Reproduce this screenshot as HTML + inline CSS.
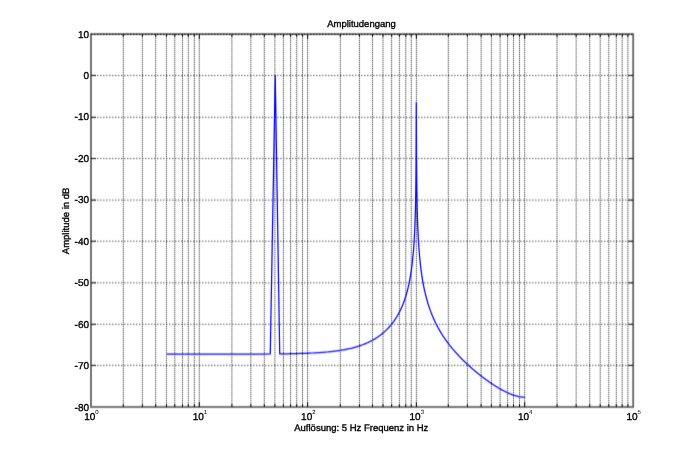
<!DOCTYPE html>
<html><head><meta charset="utf-8"><style>
html,body{margin:0;padding:0;background:#fff;width:700px;height:458px;overflow:hidden}
svg{display:block}
text{font-family:"Liberation Sans",sans-serif;fill:#000;stroke:#000;stroke-width:0.35px;text-rendering:geometricPrecision}
.gh{stroke:#333;stroke-width:0.8;stroke-dasharray:1.5 1.5;fill:none}
.gt{stroke:#000;stroke-width:1;stroke-dasharray:1.5 1.5;fill:none}
.gv{stroke:#222;stroke-width:1;stroke-dasharray:1 1;fill:none}
.tk{stroke:#000;stroke-width:1;fill:none}
.box{stroke:#666;stroke-width:1.8;fill:none}
.cv{stroke:#0000ff;stroke-width:1.25;fill:none;stroke-linejoin:round}
.yt{font-size:10px;text-anchor:end}
.xt{font-size:10px}
.sup{font-size:6px;stroke-width:0}
.lab{font-size:9.5px}
</style></head><body>
<svg width="700" height="458" viewBox="0 0 700 458">
<defs><filter id="bl" x="0" y="0" width="700" height="458" filterUnits="userSpaceOnUse" color-interpolation-filters="sRGB"><feConvolveMatrix order="3" kernelMatrix="0.01440 0.15120 0.01440 0.05120 0.53760 0.05120 0.01440 0.15120 0.01440" edgeMode="duplicate" preserveAlpha="true"/></filter><filter id="id" x="0" y="0" width="700" height="458" filterUnits="userSpaceOnUse" color-interpolation-filters="sRGB"><feOffset dx="0" dy="0"/></filter></defs>
<g filter="url(#bl)">
<rect width="700" height="458" fill="#fff"/>
<line x1="91.0" y1="75.45" x2="633.2" y2="75.45" class="gh"/>
<line x1="91.0" y1="117.35" x2="633.2" y2="117.35" class="gh"/>
<line x1="91.0" y1="158.50" x2="633.2" y2="158.50" class="gh"/>
<line x1="91.0" y1="200.10" x2="633.2" y2="200.10" class="gh"/>
<line x1="91.0" y1="241.25" x2="633.2" y2="241.25" class="gh"/>
<line x1="91.0" y1="282.80" x2="633.2" y2="282.80" class="gh"/>
<line x1="91.0" y1="324.30" x2="633.2" y2="324.30" class="gh"/>
<line x1="91.0" y1="365.40" x2="633.2" y2="365.40" class="gh"/>
<line x1="123.29" y1="34.1" x2="123.29" y2="407.0" class="gv"/>
<line x1="142.39" y1="34.1" x2="142.39" y2="407.0" class="gv"/>
<line x1="155.70" y1="34.1" x2="155.70" y2="407.0" class="gv"/>
<line x1="166.45" y1="34.1" x2="166.45" y2="407.0" class="gv"/>
<line x1="174.75" y1="34.1" x2="174.75" y2="407.0" class="gv"/>
<line x1="182.50" y1="34.1" x2="182.50" y2="407.0" class="gv"/>
<line x1="188.30" y1="34.1" x2="188.30" y2="407.0" class="gv"/>
<line x1="194.35" y1="34.1" x2="194.35" y2="407.0" class="gv"/>
<line x1="199.30" y1="34.1" x2="199.30" y2="407.0" class="gv"/>
<line x1="231.90" y1="34.1" x2="231.90" y2="407.0" class="gv"/>
<line x1="250.83" y1="34.1" x2="250.83" y2="407.0" class="gv"/>
<line x1="264.30" y1="34.1" x2="264.30" y2="407.0" class="gv"/>
<line x1="274.90" y1="34.1" x2="274.90" y2="407.0" class="gv"/>
<line x1="283.40" y1="34.1" x2="283.40" y2="407.0" class="gv"/>
<line x1="290.60" y1="34.1" x2="290.60" y2="407.0" class="gv"/>
<line x1="296.70" y1="34.1" x2="296.70" y2="407.0" class="gv"/>
<line x1="302.55" y1="34.1" x2="302.55" y2="407.0" class="gv"/>
<line x1="307.60" y1="34.1" x2="307.60" y2="407.0" class="gv"/>
<line x1="340.30" y1="34.1" x2="340.30" y2="407.0" class="gv"/>
<line x1="359.45" y1="34.1" x2="359.45" y2="407.0" class="gv"/>
<line x1="372.50" y1="34.1" x2="372.50" y2="407.0" class="gv"/>
<line x1="383.00" y1="34.1" x2="383.00" y2="407.0" class="gv"/>
<line x1="391.65" y1="34.1" x2="391.65" y2="407.0" class="gv"/>
<line x1="399.40" y1="34.1" x2="399.40" y2="407.0" class="gv"/>
<line x1="405.75" y1="34.1" x2="405.75" y2="407.0" class="gv"/>
<line x1="411.25" y1="34.1" x2="411.25" y2="407.0" class="gv"/>
<line x1="416.40" y1="34.1" x2="416.40" y2="407.0" class="gv"/>
<line x1="448.30" y1="34.1" x2="448.30" y2="407.0" class="gv"/>
<line x1="467.40" y1="34.1" x2="467.40" y2="407.0" class="gv"/>
<line x1="481.10" y1="34.1" x2="481.10" y2="407.0" class="gv"/>
<line x1="491.40" y1="34.1" x2="491.40" y2="407.0" class="gv"/>
<line x1="500.10" y1="34.1" x2="500.10" y2="407.0" class="gv"/>
<line x1="507.60" y1="34.1" x2="507.60" y2="407.0" class="gv"/>
<line x1="513.50" y1="34.1" x2="513.50" y2="407.0" class="gv"/>
<line x1="519.50" y1="34.1" x2="519.50" y2="407.0" class="gv"/>
<line x1="524.70" y1="34.1" x2="524.70" y2="407.0" class="gv"/>
<line x1="557.05" y1="34.1" x2="557.05" y2="407.0" class="gv"/>
<line x1="576.15" y1="34.1" x2="576.15" y2="407.0" class="gv"/>
<line x1="589.70" y1="34.1" x2="589.70" y2="407.0" class="gv"/>
<line x1="600.21" y1="34.1" x2="600.21" y2="407.0" class="gv"/>
<line x1="608.79" y1="34.1" x2="608.79" y2="407.0" class="gv"/>
<line x1="616.30" y1="34.1" x2="616.30" y2="407.0" class="gv"/>
<line x1="622.20" y1="34.1" x2="622.20" y2="407.0" class="gv"/>
<line x1="627.90" y1="34.1" x2="627.90" y2="407.0" class="gv"/>
<rect x="91.0" y="34.1" width="542.20" height="372.90" class="box"/>
<path d="M123.29,407.0v-3M123.29,34.1v3M142.39,407.0v-3M142.39,34.1v3M155.70,407.0v-3M155.70,34.1v3M166.45,407.0v-3M166.45,34.1v3M174.75,407.0v-3M174.75,34.1v3M182.50,407.0v-3M182.50,34.1v3M188.30,407.0v-3M188.30,34.1v3M194.35,407.0v-3M194.35,34.1v3M199.30,407.0v-5M199.30,34.1v5M231.90,407.0v-3M231.90,34.1v3M250.83,407.0v-3M250.83,34.1v3M264.30,407.0v-3M264.30,34.1v3M274.90,407.0v-3M274.90,34.1v3M283.40,407.0v-3M283.40,34.1v3M290.60,407.0v-3M290.60,34.1v3M296.70,407.0v-3M296.70,34.1v3M302.55,407.0v-3M302.55,34.1v3M307.60,407.0v-5M307.60,34.1v5M340.30,407.0v-3M340.30,34.1v3M359.45,407.0v-3M359.45,34.1v3M372.50,407.0v-3M372.50,34.1v3M383.00,407.0v-3M383.00,34.1v3M391.65,407.0v-3M391.65,34.1v3M399.40,407.0v-3M399.40,34.1v3M405.75,407.0v-3M405.75,34.1v3M411.25,407.0v-3M411.25,34.1v3M416.40,407.0v-5M416.40,34.1v5M448.30,407.0v-3M448.30,34.1v3M467.40,407.0v-3M467.40,34.1v3M481.10,407.0v-3M481.10,34.1v3M491.40,407.0v-3M491.40,34.1v3M500.10,407.0v-3M500.10,34.1v3M507.60,407.0v-3M507.60,34.1v3M513.50,407.0v-3M513.50,34.1v3M519.50,407.0v-3M519.50,34.1v3M524.70,407.0v-5M524.70,34.1v5M557.05,407.0v-3M557.05,34.1v3M576.15,407.0v-3M576.15,34.1v3M589.70,407.0v-3M589.70,34.1v3M600.21,407.0v-3M600.21,34.1v3M608.79,407.0v-3M608.79,34.1v3M616.30,407.0v-3M616.30,34.1v3M622.20,407.0v-3M622.20,34.1v3M627.90,407.0v-3M627.90,34.1v3M91.0,75.45h5M633.2,75.45h-5M91.0,117.35h5M633.2,117.35h-5M91.0,158.50h5M633.2,158.50h-5M91.0,200.10h5M633.2,200.10h-5M91.0,241.25h5M633.2,241.25h-5M91.0,282.80h5M633.2,282.80h-5M91.0,324.30h5M633.2,324.30h-5M91.0,365.40h5M633.2,365.40h-5" class="tk"/>
<line x1="91.0" y1="34.40" x2="633.2" y2="34.40" class="gt"/>
<polyline points="166.80,354.19 199.44,354.18 218.54,354.17 232.08,354.15 242.59,354.13 251.18,354.10 258.44,354.07 264.73,354.03 270.27,353.99 275.24,75.53 279.72,353.89 283.82,353.84 287.59,353.77 291.08,353.71 294.33,353.64 297.37,353.56 300.23,353.48 302.92,353.39 305.46,353.30 307.88,353.21 310.18,353.11 312.37,353.00 314.46,352.89 316.47,352.78 318.39,352.66 320.24,352.54 322.01,352.41 323.73,352.28 325.38,352.14 326.98,352.00 328.52,351.85 330.01,351.70 331.46,351.55 332.87,351.39 334.24,351.23 335.56,351.06 336.85,350.89 338.11,350.71 339.33,350.53 340.52,350.35 341.69,350.16 342.82,349.97 343.93,349.77 345.01,349.57 346.07,349.37 347.11,349.16 348.12,348.94 349.11,348.73 350.08,348.51 351.03,348.28 351.97,348.06 352.88,347.82 353.78,347.59 354.66,347.35 355.52,347.10 356.37,346.86 357.20,346.61 358.02,346.35 358.83,346.10 359.62,345.83 360.40,345.57 361.16,345.30 361.92,345.03 362.66,344.75 363.39,344.47 364.11,344.19 364.82,343.90 365.51,343.61 366.20,343.32 366.88,343.02 367.55,342.72 368.21,342.42 368.86,342.11 369.50,341.80 370.13,341.48 370.75,341.16 371.37,340.84 371.98,340.52 372.57,340.19 373.17,339.86 373.75,339.52 374.33,339.18 374.90,338.84 375.47,338.49 376.02,338.14 376.57,337.79 377.12,337.43 377.66,337.07 378.19,336.70 378.71,336.34 379.23,335.96 379.75,335.59 380.26,335.21 380.76,334.83 381.26,334.44 381.75,334.05 382.24,333.65 382.72,333.25 383.20,332.85 383.68,332.44 384.14,332.03 384.61,331.62 385.07,331.20 385.52,330.77 385.97,330.35 386.42,329.91 386.86,329.48 387.30,329.03 387.73,328.59 388.16,328.14 388.59,327.68 389.01,327.22 389.43,326.75 389.85,326.28 390.26,325.81 390.67,325.33 391.07,324.84 391.47,324.35 391.87,323.85 392.26,323.35 392.65,322.84 393.04,322.33 393.43,321.80 393.81,321.28 394.19,320.74 394.56,320.20 394.93,319.66 395.30,319.10 395.67,318.54 396.03,317.97 396.39,317.40 396.75,316.82 397.11,316.23 397.46,315.63 397.81,315.02 398.16,314.40 398.50,313.78 398.84,313.15 399.18,312.50 399.52,311.85 399.86,311.19 400.19,310.51 400.52,309.83 400.85,309.13 401.18,308.43 401.50,307.71 401.82,306.98 402.14,306.24 402.46,305.48 402.77,304.71 403.08,303.92 403.40,303.12 403.70,302.31 404.01,301.48 404.32,300.63 404.62,299.76 404.92,298.88 405.22,297.97 405.52,297.05 405.81,296.10 406.10,295.14 406.40,294.14 406.69,293.13 406.97,292.09 407.26,291.01 407.54,289.92 407.83,288.78 408.11,287.62 408.39,286.42 408.67,285.19 408.94,283.91 409.22,282.59 409.49,281.23 409.76,279.81 410.03,278.35 410.30,276.82 410.57,275.23 410.83,273.58 411.10,271.85 411.36,270.04 411.62,268.14 411.88,266.14 412.14,264.03 412.39,261.79 412.65,259.42 412.90,256.88 413.15,254.16 413.41,251.22 413.66,248.04 413.90,244.56 414.15,240.71 414.40,236.42 414.64,231.56 414.89,225.96 415.13,219.35 415.37,211.26 415.61,200.86 415.85,186.21 416.08,161.22 416.32,102.63 416.55,161.11 416.79,186.01 417.02,200.55 417.25,210.85 417.48,218.83 417.71,225.34 417.94,230.84 418.17,235.59 418.39,239.78 418.62,243.52 418.84,246.90 419.06,249.98 419.29,252.81 419.51,255.43 419.73,257.87 419.94,260.14 420.16,262.27 420.38,264.28 420.59,266.18 420.81,267.97 421.02,269.68 421.23,271.31 421.45,272.86 421.66,274.34 421.87,275.76 422.08,277.13 422.28,278.44 422.49,279.70 422.70,280.92 422.90,282.09 423.11,283.22 423.31,284.32 423.51,285.38 423.71,286.41 423.91,287.41 424.11,288.37 424.31,289.31 424.51,290.23 424.71,291.12 424.91,291.98 425.10,292.83 425.30,293.65 425.49,294.45 425.68,295.23 425.88,296.00 426.07,296.74 426.26,297.47 426.45,298.19 426.64,298.88 426.83,299.57 427.02,300.24 427.20,300.89 427.39,301.53 427.58,302.16 427.76,302.78 427.95,303.39 428.13,303.98 428.31,304.56 428.49,305.14 428.68,305.70 428.86,306.25 429.04,306.80 429.22,307.33 429.40,307.85 429.57,308.37 429.75,308.88 429.93,309.38 430.10,309.87 430.28,310.35 430.45,310.83 430.63,311.30 430.80,311.76 430.97,312.22 431.15,312.67 431.32,313.11 431.49,313.55 431.66,313.98 431.83,314.40 432.00,314.82 432.17,315.24 432.33,315.64 432.50,316.05 432.67,316.44 432.83,316.84 433.00,317.22 433.16,317.60 433.33,317.98 433.49,318.36 433.66,318.72 433.82,319.09 433.98,319.45 434.14,319.80 434.30,320.15 434.46,320.50 434.62,320.84 434.78,321.18 434.94,321.52 435.10,321.85 435.26,322.18 435.42,322.50 435.57,322.83 435.73,323.14 435.88,323.46 436.04,323.77 436.19,324.08 436.35,324.38 436.50,324.68 436.65,324.98 436.81,325.28 436.96,325.57 437.11,325.86 437.26,326.15 437.41,326.43 437.56,326.72 437.71,327.00 437.86,327.27 438.01,327.55 438.16,327.82 438.31,328.09 438.45,328.35 438.60,328.62 438.75,328.88 438.89,329.14 439.04,329.40 439.18,329.65 439.33,329.90 439.47,330.16 439.62,330.40 439.76,330.65 439.90,330.90 440.05,331.14 440.19,331.38 440.33,331.62 440.47,331.85 440.61,332.09 440.75,332.32 440.89,332.55 441.03,332.78 441.17,333.01 441.31,333.23 441.45,333.46 441.59,333.68 441.72,333.90 441.86,334.12 442.00,334.34 442.13,334.55 442.27,334.77 442.41,334.98 442.54,335.19 442.68,335.40 442.81,335.61 442.94,335.81 443.08,336.02 443.21,336.22 443.34,336.42 443.48,336.62 443.61,336.82 443.74,337.02 443.87,337.22 444.00,337.41 444.13,337.61 444.26,337.80 444.39,337.99 444.52,338.18 444.65,338.37 444.78,338.56 444.91,338.74 445.04,338.93 445.16,339.11 445.29,339.29 445.42,339.48 445.55,339.66 445.67,339.84 445.80,340.01 445.92,340.19 446.05,340.37 446.17,340.54 446.30,340.72 446.42,340.89 446.55,341.06 446.67,341.23 446.80,341.40 446.92,341.57 447.04,341.74 447.16,341.90 447.29,342.07 447.41,342.24 447.53,342.40 447.65,342.56 447.77,342.72 447.89,342.89 448.01,343.05 448.13,343.20 448.25,343.36 448.37,343.52 448.49,343.68 448.61,343.83 448.73,343.99 448.85,344.14 448.96,344.30 449.08,344.45 449.20,344.60 449.32,344.75 449.43,344.90 449.55,345.05 449.66,345.20 449.78,345.35 449.90,345.49 450.01,345.64 450.13,345.78 450.24,345.93 450.36,346.07 450.47,346.22 450.58,346.36 450.70,346.50 450.81,346.64 450.92,346.78 451.04,346.92 451.15,347.06 451.26,347.20 451.37,347.34 451.49,347.47 451.60,347.61 451.71,347.74 451.82,347.88 451.93,348.01 452.04,348.15 452.15,348.28 452.26,348.41 452.37,348.54 452.48,348.68 452.59,348.81 452.70,348.94 452.81,349.06 452.91,349.19 453.02,349.32 453.13,349.45 453.24,349.58 453.35,349.70 453.45,349.83 453.56,349.95 453.67,350.08 453.77,350.20 453.88,350.33 453.98,350.45 454.09,350.57 454.20,350.69 454.30,350.82 454.41,350.94 454.51,351.06 454.62,351.18 454.72,351.30 454.82,351.41 454.93,351.53 455.03,351.65 455.13,351.77 455.24,351.88 455.34,352.00 455.44,352.12 455.55,352.23 455.65,352.35 455.75,352.46 455.85,352.58 455.95,352.69 456.05,352.80 456.16,352.92 456.26,353.03 456.36,353.14 456.46,353.25 456.56,353.36 456.66,353.47 456.76,353.58 456.86,353.69 456.96,353.80 457.06,353.91 457.16,354.02 457.25,354.12 457.35,354.23 457.45,354.34 457.55,354.44 457.65,354.55 457.75,354.66 457.84,354.76 457.94,354.87 458.04,354.97 458.14,355.08 458.23,355.18 458.33,355.28 458.42,355.39 458.52,355.49 458.62,355.59 458.71,355.69 458.81,355.79 458.90,355.89 459.00,356.00 459.09,356.10 459.19,356.20 459.28,356.29 459.38,356.39 459.47,356.49 459.57,356.59 459.66,356.69 459.75,356.79 459.85,356.88 459.94,356.98 460.03,357.08 460.13,357.18 460.22,357.27 460.31,357.37 460.41,357.46 460.50,357.56 460.59,357.65 460.68,357.75 460.77,357.84 460.86,357.93 460.96,358.03 461.05,358.12 461.14,358.21 461.23,358.31 461.32,358.40 461.41,358.49 461.50,358.58 461.59,358.67 461.68,358.76 461.77,358.85 461.86,358.94 461.95,359.03 462.04,359.12 462.13,359.21 462.22,359.30 462.31,359.39 462.39,359.48 462.48,359.57 462.57,359.66 462.66,359.74 462.75,359.83 462.83,359.92 462.92,360.01 463.01,360.09 463.10,360.18 463.18,360.27 463.27,360.35 463.36,360.44 463.44,360.52 463.53,360.61 463.62,360.69 463.70,360.78 463.79,360.86 463.88,360.94 463.96,361.03 464.05,361.11 464.13,361.19 464.22,361.28 464.30,361.36 464.39,361.44 464.47,361.52 464.56,361.61 464.64,361.69 464.73,361.77 464.81,361.85 464.89,361.93 464.98,362.01 465.06,362.09 465.15,362.17 465.23,362.25 465.31,362.33 465.39,362.41 465.48,362.49 465.56,362.57 465.64,362.65 465.73,362.73 465.81,362.80 465.89,362.88 465.97,362.96 466.05,363.04 466.14,363.11 466.22,363.19 466.30,363.27 466.38,363.35 466.46,363.42 466.54,363.50 466.62,363.57 466.71,363.65 466.79,363.73 466.87,363.80 466.95,363.88 467.03,363.95 467.11,364.03 467.19,364.10 467.27,364.17 467.35,364.25 467.43,364.32 467.51,364.40 467.59,364.47 467.66,364.54 467.74,364.62 467.82,364.69 467.90,364.76 467.98,364.83 468.06,364.91 468.14,364.98 468.22,365.05 468.29,365.12 468.37,365.19 468.45,365.26 468.53,365.34 468.61,365.41 468.68,365.48 468.76,365.55 468.84,365.62 468.91,365.69 468.99,365.76 469.07,365.83 469.15,365.90 469.22,365.97 469.30,366.04 469.37,366.10 469.45,366.17 469.53,366.24 469.60,366.31 469.68,366.38 469.75,366.45 469.83,366.52 469.91,366.58 469.98,366.65 470.06,366.72 470.13,366.79 470.21,366.85 470.28,366.92 470.36,366.99 470.43,367.05 470.51,367.12 470.58,367.19 470.65,367.25 470.73,367.32 470.80,367.38 470.88,367.45 470.95,367.51 471.02,367.58 471.10,367.64 471.17,367.71 471.25,367.77 471.32,367.84 471.39,367.90 471.46,367.97 471.54,368.03 471.61,368.09 471.68,368.16 471.76,368.22 471.83,368.29 471.90,368.35 471.97,368.41 472.05,368.47 472.12,368.54 472.19,368.60 472.26,368.66 472.33,368.72 472.40,368.79 472.48,368.85 472.55,368.91 472.62,368.97 472.69,369.03 472.76,369.10 472.83,369.16 472.90,369.22 472.97,369.28 473.04,369.34 473.12,369.40 473.19,369.46 473.26,369.52 473.33,369.58 473.40,369.64 473.47,369.70 473.54,369.76 473.61,369.82 473.68,369.88 473.75,369.94 473.81,370.00 473.88,370.06 473.95,370.12 474.02,370.18 474.09,370.24 474.16,370.29 474.23,370.35 474.30,370.41 474.37,370.47 474.44,370.53 474.50,370.58 474.57,370.64 474.64,370.70 474.71,370.76 474.78,370.82 474.85,370.87 474.91,370.93 474.98,370.99 475.05,371.04 475.12,371.10 475.18,371.16 475.25,371.21 475.32,371.27 475.39,371.33 475.45,371.38 475.52,371.44 475.59,371.49 475.65,371.55 475.72,371.60 475.79,371.66 475.85,371.72 475.92,371.77 475.99,371.83 476.05,371.88 476.12,371.94 476.19,371.99 476.25,372.04 476.32,372.10 476.38,372.15 476.45,372.21 476.51,372.26 476.58,372.32 476.65,372.37 476.71,372.42 476.78,372.48 476.84,372.53 476.91,372.58 476.97,372.64 477.04,372.69 477.10,372.74 477.17,372.80 477.23,372.85 477.30,372.90 477.36,372.95 477.42,373.01 477.49,373.06 477.55,373.11 477.62,373.16 477.68,373.22 477.74,373.27 477.81,373.32 477.87,373.37 477.94,373.42 478.00,373.47 478.06,373.53 478.13,373.58 478.19,373.63 478.25,373.68 478.32,373.73 478.38,373.78 478.44,373.83 478.51,373.88 478.57,373.93 478.63,373.98 478.69,374.03 478.76,374.08 478.82,374.13 478.88,374.18 478.94,374.23 479.01,374.28 479.07,374.33 479.13,374.38 479.19,374.43 479.25,374.48 479.32,374.53 479.38,374.58 479.44,374.63 479.50,374.68 479.56,374.73 479.62,374.77 479.68,374.82 479.75,374.87 479.81,374.92 479.87,374.97 479.93,375.02 479.99,375.06 480.05,375.11 480.11,375.16 480.17,375.21 480.23,375.26 480.29,375.30 480.35,375.35 480.42,375.40 480.48,375.45 480.54,375.49 480.60,375.54 480.66,375.59 480.72,375.63 480.78,375.68 480.84,375.73 480.90,375.77 480.96,375.82 481.01,375.87 481.07,375.91 481.13,375.96 481.19,376.01 481.25,376.05 481.31,376.10 481.37,376.14 481.43,376.19 481.49,376.24 481.55,376.28 481.61,376.33 481.67,376.37 481.72,376.42 481.78,376.46 481.84,376.51 481.90,376.55 481.96,376.60 482.02,376.64 482.08,376.69 482.13,376.73 482.19,376.78 482.25,376.82 482.31,376.87 482.37,376.91 482.42,376.95 482.48,377.00 482.54,377.04 482.60,377.09 482.66,377.13 482.71,377.17 482.77,377.22 482.83,377.26 482.89,377.31 482.94,377.35 483.00,377.39 483.06,377.44 483.11,377.48 483.17,377.52 483.23,377.57 483.28,377.61 483.34,377.65 483.40,377.69 483.45,377.74 483.51,377.78 483.57,377.82 483.62,377.86 483.68,377.91 483.74,377.95 483.79,377.99 483.85,378.03 483.91,378.08 483.96,378.12 484.02,378.16 484.07,378.20 484.13,378.24 484.18,378.29 484.24,378.33 484.30,378.37 484.35,378.41 484.41,378.45 484.46,378.49 484.52,378.53 484.57,378.58 484.63,378.62 484.68,378.66 484.74,378.70 484.79,378.74 484.85,378.78 484.90,378.82 484.96,378.86 485.01,378.90 485.07,378.94 485.12,378.98 485.18,379.02 485.23,379.06 485.29,379.10 485.34,379.14 485.40,379.18 485.45,379.22 485.50,379.26 485.56,379.30 485.61,379.34 485.67,379.38 485.72,379.42 485.77,379.46 485.83,379.50 485.88,379.54 485.94,379.58 485.99,379.62 486.04,379.66 486.10,379.70 486.15,379.74 486.20,379.77 486.26,379.81 486.31,379.85 486.36,379.89 486.42,379.93 486.47,379.97 486.52,380.01 486.58,380.04 486.63,380.08 486.68,380.12 486.73,380.16 486.79,380.20 486.84,380.24 486.89,380.27 486.94,380.31 487.00,380.35 487.05,380.39 487.10,380.42 487.15,380.46 487.21,380.50 487.26,380.54 487.31,380.57 487.36,380.61 487.42,380.65 487.47,380.69 487.52,380.72 487.57,380.76 487.62,380.80 487.67,380.83 487.73,380.87 487.78,380.91 487.83,380.94 487.88,380.98 487.93,381.02 487.98,381.05 488.04,381.09 488.09,381.13 488.14,381.16 488.19,381.20 488.24,381.24 488.29,381.27 488.34,381.31 488.39,381.34 488.44,381.38 488.50,381.42 488.55,381.45 488.60,381.49 488.65,381.52 488.70,381.56 488.75,381.59 488.80,381.63 488.85,381.67 488.90,381.70 488.95,381.74 489.00,381.77 489.05,381.81 489.10,381.84 489.15,381.88 489.20,381.91 489.25,381.95 489.30,381.98 489.35,382.02 489.40,382.05 489.45,382.09 489.50,382.12 489.55,382.15 489.60,382.19 489.65,382.22 489.70,382.26 489.75,382.29 489.80,382.33 489.85,382.36 489.90,382.39 489.95,382.43 490.00,382.46 490.05,382.50 490.10,382.53 490.14,382.56 490.19,382.60 490.24,382.63 490.29,382.67 490.34,382.70 490.39,382.73 490.44,382.77 490.49,382.80 490.54,382.83 490.58,382.87 490.63,382.90 490.68,382.93 490.73,382.97 490.78,383.00 490.83,383.03 490.88,383.06 490.92,383.10 490.97,383.13 491.02,383.16 491.07,383.20 491.12,383.23 491.16,383.26 491.21,383.29 491.26,383.33 491.31,383.36 491.36,383.39 491.40,383.42 491.45,383.45 491.50,383.49 491.55,383.52 491.60,383.55 491.64,383.58 491.69,383.61 491.74,383.65 491.79,383.68 491.83,383.71 491.88,383.74 491.93,383.77 491.97,383.81 492.02,383.84 492.07,383.87 492.12,383.90 492.16,383.93 492.21,383.96 492.26,383.99 492.30,384.02 492.35,384.06 492.40,384.09 492.44,384.12 492.49,384.15 492.54,384.18 492.58,384.21 492.63,384.24 492.68,384.27 492.72,384.30 492.77,384.33 492.82,384.36 492.86,384.40 492.91,384.43 492.96,384.46 493.00,384.49 493.05,384.52 493.10,384.55 493.14,384.58 493.19,384.61 493.23,384.64 493.28,384.67 493.33,384.70 493.37,384.73 493.42,384.76 493.46,384.79 493.51,384.82 493.55,384.85 493.60,384.88 493.65,384.91 493.69,384.94 493.74,384.97 493.78,385.00 493.83,385.03 493.87,385.05 493.92,385.08 493.96,385.11 494.01,385.14 494.05,385.17 494.10,385.20 494.14,385.23 494.19,385.26 494.23,385.29 494.28,385.32 494.32,385.35 494.37,385.37 494.41,385.40 494.46,385.43 494.50,385.46 494.55,385.49 494.59,385.52 494.64,385.55 494.68,385.58 494.73,385.60 494.77,385.63 494.82,385.66 494.86,385.69 494.90,385.72 494.95,385.75 494.99,385.77 495.04,385.80 495.08,385.83 495.13,385.86 495.17,385.89 495.21,385.91 495.26,385.94 495.30,385.97 495.35,386.00 495.39,386.02 495.43,386.05 495.48,386.08 495.52,386.11 495.57,386.14 495.61,386.16 495.65,386.19 495.70,386.22 495.74,386.25 495.78,386.27 495.83,386.30 495.87,386.33 495.91,386.35 495.96,386.38 496.00,386.41 496.05,386.44 496.09,386.46 496.13,386.49 496.17,386.52 496.22,386.54 496.26,386.57 496.30,386.60 496.35,386.62 496.39,386.65 496.43,386.68 496.48,386.70 496.52,386.73 496.56,386.76 496.60,386.78 496.65,386.81 496.69,386.83 496.73,386.86 496.78,386.89 496.82,386.91 496.86,386.94 496.90,386.97 496.95,386.99 496.99,387.02 497.03,387.04 497.07,387.07 497.12,387.10 497.16,387.12 497.20,387.15 497.24,387.17 497.29,387.20 497.33,387.22 497.37,387.25 497.41,387.28 497.45,387.30 497.50,387.33 497.54,387.35 497.58,387.38 497.62,387.40 497.66,387.43 497.71,387.45 497.75,387.48 497.79,387.50 497.83,387.53 497.87,387.55 497.91,387.58 497.96,387.60 498.00,387.63 498.04,387.65 498.08,387.68 498.12,387.70 498.16,387.73 498.20,387.75 498.25,387.78 498.29,387.80 498.33,387.83 498.37,387.85 498.41,387.88 498.45,387.90 498.49,387.92 498.53,387.95 498.58,387.97 498.62,388.00 498.66,388.02 498.70,388.05 498.74,388.07 498.78,388.09 498.82,388.12 498.86,388.14 498.90,388.17 498.94,388.19 498.98,388.21 499.02,388.24 499.07,388.26 499.11,388.29 499.15,388.31 499.19,388.33 499.23,388.36 499.27,388.38 499.31,388.40 499.35,388.43 499.39,388.45 499.43,388.47 499.47,388.50 499.51,388.52 499.55,388.54 499.59,388.57 499.63,388.59 499.67,388.61 499.71,388.64 499.75,388.66 499.79,388.68 499.83,388.71 499.87,388.73 499.91,388.75 499.95,388.78 499.99,388.80 500.03,388.82 500.07,388.84 500.11,388.87 500.15,388.89 500.19,388.91 500.23,388.94 500.27,388.96 500.31,388.98 500.35,389.00 500.39,389.03 500.43,389.05 500.47,389.07 500.51,389.09 500.55,389.12 500.58,389.14 500.62,389.16 500.66,389.18 500.70,389.20 500.74,389.23 500.78,389.25 500.82,389.27 500.86,389.29 500.90,389.31 500.94,389.34 500.98,389.36 501.02,389.38 501.05,389.40 501.09,389.42 501.13,389.45 501.17,389.47 501.21,389.49 501.25,389.51 501.29,389.53 501.33,389.55 501.37,389.58 501.40,389.60 501.44,389.62 501.48,389.64 501.52,389.66 501.56,389.68 501.60,389.70 501.64,389.72 501.67,389.75 501.71,389.77 501.75,389.79 501.79,389.81 501.83,389.83 501.87,389.85 501.90,389.87 501.94,389.89 501.98,389.91 502.02,389.94 502.06,389.96 502.09,389.98 502.13,390.00 502.17,390.02 502.21,390.04 502.25,390.06 502.28,390.08 502.32,390.10 502.36,390.12 502.40,390.14 502.44,390.16 502.47,390.18 502.51,390.20 502.55,390.22 502.59,390.24 502.63,390.26 502.66,390.28 502.70,390.30 502.74,390.32 502.78,390.34 502.81,390.36 502.85,390.38 502.89,390.40 502.93,390.42 502.96,390.44 503.00,390.46 503.04,390.48 503.08,390.50 503.11,390.52 503.15,390.54 503.19,390.56 503.22,390.58 503.26,390.60 503.30,390.62 503.34,390.64 503.37,390.66 503.41,390.68 503.45,390.70 503.48,390.72 503.52,390.74 503.56,390.76 503.59,390.78 503.63,390.80 503.67,390.82 503.71,390.84 503.74,390.86 503.78,390.87 503.82,390.89 503.85,390.91 503.89,390.93 503.93,390.95 503.96,390.97 504.00,390.99 504.04,391.01 504.07,391.03 504.11,391.05 504.15,391.06 504.18,391.08 504.22,391.10 504.25,391.12 504.29,391.14 504.33,391.16 504.36,391.18 504.40,391.19 504.44,391.21 504.47,391.23 504.51,391.25 504.54,391.27 504.58,391.29 504.62,391.31 504.65,391.32 504.69,391.34 504.73,391.36 504.76,391.38 504.80,391.40 504.83,391.41 504.87,391.43 504.91,391.45 504.94,391.47 504.98,391.49 505.01,391.51 505.05,391.52 505.08,391.54 505.12,391.56 505.16,391.58 505.19,391.59 505.23,391.61 505.26,391.63 505.30,391.65 505.33,391.67 505.37,391.68 505.40,391.70 505.44,391.72 505.48,391.74 505.51,391.75 505.55,391.77 505.58,391.79 505.62,391.81 505.65,391.82 505.69,391.84 505.72,391.86 505.76,391.88 505.79,391.89 505.83,391.91 505.86,391.93 505.90,391.94 505.93,391.96 505.97,391.98 506.00,392.00 506.04,392.01 506.07,392.03 506.11,392.05 506.14,392.06 506.18,392.08 506.21,392.10 506.25,392.11 506.28,392.13 506.32,392.15 506.35,392.16 506.39,392.18 506.42,392.20 506.46,392.21 506.49,392.23 506.53,392.25 506.56,392.26 506.60,392.28 506.63,392.30 506.67,392.31 506.70,392.33 506.74,392.35 506.77,392.36 506.80,392.38 506.84,392.39 506.87,392.41 506.91,392.43 506.94,392.44 506.98,392.46 507.01,392.48 507.05,392.49 507.08,392.51 507.11,392.52 507.15,392.54 507.18,392.56 507.22,392.57 507.25,392.59 507.28,392.60 507.32,392.62 507.35,392.63 507.39,392.65 507.42,392.67 507.46,392.68 507.49,392.70 507.52,392.71 507.56,392.73 507.59,392.74 507.62,392.76 507.66,392.78 507.69,392.79 507.73,392.81 507.76,392.82 507.79,392.84 507.83,392.85 507.86,392.87 507.90,392.88 507.93,392.90 507.96,392.91 508.00,392.93 508.03,392.94 508.06,392.96 508.10,392.97 508.13,392.99 508.16,393.00 508.20,393.02 508.23,393.03 508.26,393.05 508.30,393.06 508.33,393.08 508.36,393.09 508.40,393.11 508.43,393.12 508.46,393.14 508.50,393.15 508.53,393.17 508.56,393.18 508.60,393.20 508.63,393.21 508.66,393.23 508.70,393.24 508.73,393.25 508.76,393.27 508.80,393.28 508.83,393.30 508.86,393.31 508.90,393.33 508.93,393.34 508.96,393.36 508.99,393.37 509.03,393.38 509.06,393.40 509.09,393.41 509.13,393.43 509.16,393.44 509.19,393.45 509.22,393.47 509.26,393.48 509.29,393.50 509.32,393.51 509.35,393.52 509.39,393.54 509.42,393.55 509.45,393.57 509.48,393.58 509.52,393.59 509.55,393.61 509.58,393.62 509.62,393.64 509.65,393.65 509.68,393.66 509.71,393.68 509.74,393.69 509.78,393.70 509.81,393.72 509.84,393.73 509.87,393.74 509.91,393.76 509.94,393.77 509.97,393.78 510.00,393.80 510.04,393.81 510.07,393.82 510.10,393.84 510.13,393.85 510.16,393.86 510.20,393.88 510.23,393.89 510.26,393.90 510.29,393.92 510.32,393.93 510.36,393.94 510.39,393.96 510.42,393.97 510.45,393.98 510.48,393.99 510.52,394.01 510.55,394.02 510.58,394.03 510.61,394.05 510.64,394.06 510.67,394.07 510.71,394.08 510.74,394.10 510.77,394.11 510.80,394.12 510.83,394.13 510.87,394.15 510.90,394.16 510.93,394.17 510.96,394.18 510.99,394.20 511.02,394.21 511.05,394.22 511.09,394.23 511.12,394.25 511.15,394.26 511.18,394.27 511.21,394.28 511.24,394.30 511.27,394.31 511.31,394.32 511.34,394.33 511.37,394.34 511.40,394.36 511.43,394.37 511.46,394.38 511.49,394.39 511.52,394.40 511.56,394.42 511.59,394.43 511.62,394.44 511.65,394.45 511.68,394.46 511.71,394.48 511.74,394.49 511.77,394.50 511.80,394.51 511.84,394.52 511.87,394.53 511.90,394.55 511.93,394.56 511.96,394.57 511.99,394.58 512.02,394.59 512.05,394.60 512.08,394.61 512.11,394.63 512.14,394.64 512.18,394.65 512.21,394.66 512.24,394.67 512.27,394.68 512.30,394.69 512.33,394.70 512.36,394.72 512.39,394.73 512.42,394.74 512.45,394.75 512.48,394.76 512.51,394.77 512.54,394.78 512.57,394.79 512.60,394.80 512.63,394.82 512.66,394.83 512.70,394.84 512.73,394.85 512.76,394.86 512.79,394.87 512.82,394.88 512.85,394.89 512.88,394.90 512.91,394.91 512.94,394.92 512.97,394.93 513.00,394.95 513.03,394.96 513.06,394.97 513.09,394.98 513.12,394.99 513.15,395.00 513.18,395.01 513.21,395.02 513.24,395.03 513.27,395.04 513.30,395.05 513.33,395.06 513.36,395.07 513.39,395.08 513.42,395.09 513.45,395.10 513.48,395.11 513.51,395.12 513.54,395.13 513.57,395.14 513.60,395.15 513.63,395.16 513.66,395.17 513.69,395.18 513.72,395.19 513.75,395.20 513.78,395.21 513.81,395.22 513.84,395.23 513.87,395.24 513.90,395.25 513.93,395.26 513.96,395.27 513.99,395.28 514.02,395.29 514.04,395.30 514.07,395.31 514.10,395.32 514.13,395.33 514.16,395.34 514.19,395.35 514.22,395.36 514.25,395.37 514.28,395.38 514.31,395.39 514.34,395.39 514.37,395.40 514.40,395.41 514.43,395.42 514.46,395.43 514.49,395.44 514.52,395.45 514.54,395.46 514.57,395.47 514.60,395.48 514.63,395.49 514.66,395.50 514.69,395.51 514.72,395.51 514.75,395.52 514.78,395.53 514.81,395.54 514.84,395.55 514.87,395.56 514.89,395.57 514.92,395.58 514.95,395.59 514.98,395.60 515.01,395.60 515.04,395.61 515.07,395.62 515.10,395.63 515.13,395.64 515.15,395.65 515.18,395.66 515.21,395.66 515.24,395.67 515.27,395.68 515.30,395.69 515.33,395.70 515.36,395.71 515.39,395.72 515.41,395.72 515.44,395.73 515.47,395.74 515.50,395.75 515.53,395.76 515.56,395.77 515.59,395.77 515.61,395.78 515.64,395.79 515.67,395.80 515.70,395.81 515.73,395.82 515.76,395.82 515.79,395.83 515.81,395.84 515.84,395.85 515.87,395.86 515.90,395.86 515.93,395.87 515.96,395.88 515.98,395.89 516.01,395.90 516.04,395.90 516.07,395.91 516.10,395.92 516.13,395.93 516.15,395.93 516.18,395.94 516.21,395.95 516.24,395.96 516.27,395.97 516.30,395.97 516.32,395.98 516.35,395.99 516.38,396.00 516.41,396.00 516.44,396.01 516.46,396.02 516.49,396.03 516.52,396.03 516.55,396.04 516.58,396.05 516.60,396.06 516.63,396.06 516.66,396.07 516.69,396.08 516.72,396.08 516.74,396.09 516.77,396.10 516.80,396.11 516.83,396.11 516.86,396.12 516.88,396.13 516.91,396.13 516.94,396.14 516.97,396.15 517.00,396.16 517.02,396.16 517.05,396.17 517.08,396.18 517.11,396.18 517.13,396.19 517.16,396.20 517.19,396.20 517.22,396.21 517.24,396.22 517.27,396.22 517.30,396.23 517.33,396.24 517.35,396.24 517.38,396.25 517.41,396.26 517.44,396.26 517.46,396.27 517.49,396.28 517.52,396.28 517.55,396.29 517.57,396.30 517.60,396.30 517.63,396.31 517.66,396.32 517.68,396.32 517.71,396.33 517.74,396.33 517.77,396.34 517.79,396.35 517.82,396.35 517.85,396.36 517.88,396.37 517.90,396.37 517.93,396.38 517.96,396.38 517.98,396.39 518.01,396.40 518.04,396.40 518.07,396.41 518.09,396.41 518.12,396.42 518.15,396.43 518.17,396.43 518.20,396.44 518.23,396.44 518.26,396.45 518.28,396.46 518.31,396.46 518.34,396.47 518.36,396.47 518.39,396.48 518.42,396.48 518.44,396.49 518.47,396.50 518.50,396.50 518.53,396.51 518.55,396.51 518.58,396.52 518.61,396.52 518.63,396.53 518.66,396.53 518.69,396.54 518.71,396.54 518.74,396.55 518.77,396.56 518.79,396.56 518.82,396.57 518.85,396.57 518.87,396.58 518.90,396.58 518.93,396.59 518.95,396.59 518.98,396.60 519.01,396.60 519.03,396.61 519.06,396.61 519.09,396.62 519.11,396.62 519.14,396.63 519.17,396.63 519.19,396.64 519.22,396.64 519.25,396.65 519.27,396.65 519.30,396.66 519.32,396.66 519.35,396.67 519.38,396.67 519.40,396.68 519.43,396.68 519.46,396.69 519.48,396.69 519.51,396.70 519.54,396.70 519.56,396.70 519.59,396.71 519.61,396.71 519.64,396.72 519.67,396.72 519.69,396.73 519.72,396.73 519.75,396.74 519.77,396.74 519.80,396.75 519.82,396.75 519.85,396.75 519.88,396.76 519.90,396.76 519.93,396.77 519.95,396.77 519.98,396.78 520.01,396.78 520.03,396.78 520.06,396.79 520.08,396.79 520.11,396.80 520.14,396.80 520.16,396.80 520.19,396.81 520.21,396.81 520.24,396.82 520.27,396.82 520.29,396.82 520.32,396.83 520.34,396.83 520.37,396.84 520.40,396.84 520.42,396.84 520.45,396.85 520.47,396.85 520.50,396.85 520.53,396.86 520.55,396.86 520.58,396.87 520.60,396.87 520.63,396.87 520.65,396.88 520.68,396.88 520.71,396.88 520.73,396.89 520.76,396.89 520.78,396.89 520.81,396.90 520.83,396.90 520.86,396.90 520.88,396.91 520.91,396.91 520.94,396.91 520.96,396.92 520.99,396.92 521.01,396.92 521.04,396.93 521.06,396.93 521.09,396.93 521.11,396.94 521.14,396.94 521.16,396.94 521.19,396.95 521.22,396.95 521.24,396.95 521.27,396.96 521.29,396.96 521.32,396.96 521.34,396.96 521.37,396.97 521.39,396.97 521.42,396.97 521.44,396.98 521.47,396.98 521.49,396.98 521.52,396.98 521.54,396.99 521.57,396.99 521.59,396.99 521.62,396.99 521.65,397.00 521.67,397.00 521.70,397.00 521.72,397.01 521.75,397.01 521.77,397.01 521.80,397.01 521.82,397.02 521.85,397.02 521.87,397.02 521.90,397.02 521.92,397.03 521.95,397.03 521.97,397.03 522.00,397.03 522.02,397.03 522.05,397.04 522.07,397.04 522.10,397.04 522.12,397.04 522.15,397.05 522.17,397.05 522.20,397.05 522.22,397.05 522.25,397.05 522.27,397.06 522.29,397.06 522.32,397.06 522.34,397.06 522.37,397.06 522.39,397.07 522.42,397.07 522.44,397.07 522.47,397.07 522.49,397.07 522.52,397.07 522.54,397.08 522.57,397.08 522.59,397.08 522.62,397.08 522.64,397.08 522.67,397.09 522.69,397.09 522.71,397.09 522.74,397.09 522.76,397.09 522.79,397.09 522.81,397.09 522.84,397.10 522.86,397.10 522.89,397.10 522.91,397.10 522.94,397.10 522.96,397.10 522.98,397.10 523.01,397.11 523.03,397.11 523.06,397.11 523.08,397.11 523.11,397.11 523.13,397.11 523.16,397.11 523.18,397.11 523.20,397.12 523.23,397.12 523.25,397.12 523.28,397.12 523.30,397.12 523.33,397.12 523.35,397.12 523.37,397.12 523.40,397.12 523.42,397.12 523.45,397.13 523.47,397.13 523.50,397.13 523.52,397.13 523.54,397.13 523.57,397.13 523.59,397.13 523.62,397.13 523.64,397.13 523.66,397.13 523.69,397.13 523.71,397.13 523.74,397.13 523.76,397.14 523.78,397.14 523.81,397.14 523.83,397.14 523.86,397.14 523.88,397.14 523.90,397.14 523.93,397.14 523.95,397.14 523.98,397.14 524.00,397.14 524.02,397.14 524.05,397.14 524.07,397.14 524.10,397.14 524.12,397.14 524.14,397.14 524.17,397.14 524.19,397.14 524.22,397.14 524.24,397.14 524.26,397.14 524.29,397.14 524.31,397.14 524.33,397.14 524.36,397.14 524.38,397.14 524.41,397.14 524.43,397.14 524.45,397.14 524.48,397.14 524.50,397.14 524.52,397.14 524.55,397.14 524.57,397.14 524.59,397.14 524.62,397.14 524.64,397.14 524.67,397.14 524.69,397.14 524.71,397.14 524.74,397.14 524.76,397.14" class="cv"/>
</g>
<g filter="url(#id)">
<text x="89.0" y="37.60" class="yt">10</text>
<text x="89.0" y="79.03" class="yt">0</text>
<text x="89.0" y="120.47" class="yt">-10</text>
<text x="89.0" y="161.90" class="yt">-20</text>
<text x="89.0" y="203.33" class="yt">-30</text>
<text x="89.0" y="244.77" class="yt">-40</text>
<text x="89.0" y="286.20" class="yt">-50</text>
<text x="89.0" y="327.63" class="yt">-60</text>
<text x="89.0" y="369.07" class="yt">-70</text>
<text x="89.0" y="410.50" class="yt">-80</text>
<text x="84.20" y="420.3" class="xt">10<tspan dx="0" dy="-6.6" class="sup">0</tspan></text>
<text x="192.64" y="420.3" class="xt">10<tspan dx="0" dy="-6.6" class="sup">1</tspan></text>
<text x="301.08" y="420.3" class="xt">10<tspan dx="0" dy="-6.6" class="sup">2</tspan></text>
<text x="409.52" y="420.3" class="xt">10<tspan dx="0" dy="-6.6" class="sup">3</tspan></text>
<text x="517.96" y="420.3" class="xt">10<tspan dx="0" dy="-6.6" class="sup">4</tspan></text>
<text x="626.40" y="420.3" class="xt">10<tspan dx="0" dy="-6.6" class="sup">5</tspan></text>
<text x="361.5" y="27.2" class="lab" text-anchor="middle">Amplitudengang</text>
<text x="361.3" y="431.4" class="lab" text-anchor="middle">Auflösung: 5 Hz Frequenz in Hz</text>
<text transform="translate(69.3,220.9) rotate(-90)" x="0" y="0" class="lab" text-anchor="middle">Amplitude in dB</text>
</g>
</svg>
</body></html>
